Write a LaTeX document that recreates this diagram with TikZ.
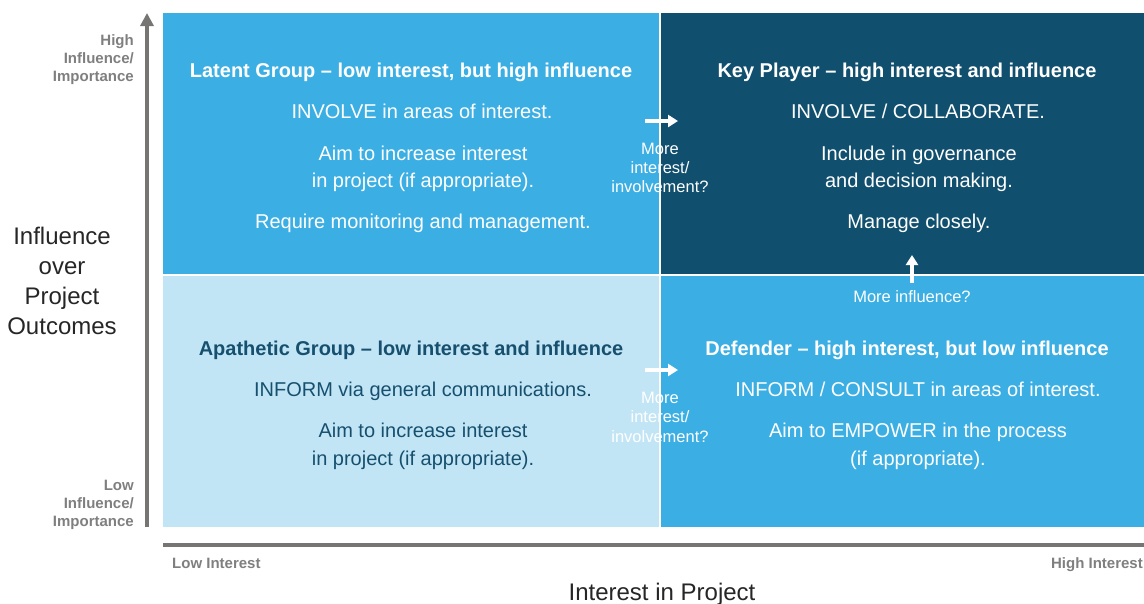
\documentclass[tikz,border=0pt]{standalone}
\usepackage{fontspec}
\setmainfont{Liberation Sans}
\usetikzlibrary{arrows.meta}
\definecolor{qblue}{HTML}{3BAFE4}
\definecolor{qdark}{HTML}{104F6E}
\definecolor{qlight}{HTML}{C2E5F6}
\definecolor{qtext}{HTML}{16506E}
\definecolor{axgray}{HTML}{777474}
\definecolor{labgray}{HTML}{7F7F7F}
\tikzset{
  quad/.style={draw=none},
  ttl/.style={anchor=base, font=\fontsize{20}{24}\selectfont\bfseries, inner sep=0pt},
  body/.style={anchor=base, font=\fontsize{20}{24}\selectfont, inner sep=0pt},
  small/.style={anchor=base, font=\fontsize{16.5}{19}\selectfont, inner sep=0pt, text=white},
  glab/.style={anchor=base east, font=\fontsize{15}{18}\selectfont\bfseries, inner sep=0pt, text=labgray},
  axt/.style={anchor=base, font=\fontsize{24}{30}\selectfont, inner sep=0pt, text=black!85},
  warrow/.style={draw=white, line width=3.5pt, -{Triangle[width=12pt,length=10pt]}},
}
\begin{document}
\begin{tikzpicture}[x=1pt,y=-1pt]
\useasboundingbox (0,0) rectangle (1144,603);
% quadrants
\fill[qblue] (163,13) rectangle (658.5,273.5);
\fill[qdark] (660.5,13) rectangle (1144,273.5);
\fill[qlight] (163,275.5) rectangle (658.5,527);
\fill[qblue] (660.5,275.5) rectangle (1144,527);
% axes
\coordinate (ybot) at (147,527);
\coordinate (ytop) at (147,13);
\draw[axgray, line width=4.5pt, -{Triangle[width=13pt,length=13pt]}] (ybot) -- (ytop);
\coordinate (xl) at (163,545);
\coordinate (xr) at (1144,545);
\draw[axgray, line width=3.5pt] (xl) -- (xr);
% axis labels
\node[glab] (hi1) at (134,45) {High};
\node[glab] (hi2) at (134,63) {Influence/};
\node[glab] (hi3) at (134,81) {Importance};
\node[glab] (lo1) at (134,490) {Low};
\node[glab] (lo2) at (134,508) {Influence/};
\node[glab] (lo3) at (134,526) {Importance};
\node[glab, anchor=base west] (lint) at (172,568) {Low Interest};
\node[glab] (hint) at (1143,568) {High Interest};
\node[axt] (y1) at (62,244) {Influence};
\node[axt] (y2) at (62,274) {over};
\node[axt] (y3) at (62,304) {Project};
\node[axt] (y4) at (62,334) {Outcomes};
\node[axt] (xt) at (662,600) {Interest in Project};
% TL
\node[ttl, text=white] (tl0) at (411,77) {Latent Group -- low interest, but high influence};
\node[body, text=white] (tl1) at (422,118) {INVOLVE in areas of interest.};
\node[body, text=white] (tl2) at (423,160) {Aim to increase interest};
\node[body, text=white] (tl3) at (423,187) {in project (if appropriate).};
\node[body, text=white] (tl4) at (423,228) {Require monitoring and management.};
% TR
\node[ttl, text=white] (tr0) at (907,77) {Key Player -- high interest and influence};
\node[body, text=white] (tr1) at (918,118) {INVOLVE / COLLABORATE.};
\node[body, text=white] (tr2) at (919,160) {Include in governance};
\node[body, text=white] (tr3) at (919,187) {and decision making.};
\node[body, text=white] (tr4) at (919,228) {Manage closely.};
% BL
\node[ttl, text=qtext] (bl0) at (411,355) {Apathetic Group -- low interest and influence};
\node[body, text=qtext] (bl1) at (423,396) {INFORM via general communications.};
\node[body, text=qtext] (bl2) at (423,437) {Aim to increase interest};
\node[body, text=qtext] (bl3) at (423,465) {in project (if appropriate).};
% BR
\node[ttl, text=white] (br0) at (907,355) {Defender -- high interest, but low influence};
\node[body, text=white] (br1) at (918,396) {INFORM / CONSULT in areas of interest.};
\node[body, text=white] (br2) at (918,437) {Aim to EMPOWER in the process};
\node[body, text=white] (br3) at (918,465) {(if appropriate).};
% transition arrows
\coordinate (a1s) at (645,121);
\coordinate (a1e) at (678,121);
\draw[warrow] (a1s) -- (a1e);
\node[small] (m1a) at (660,154) {More};
\node[small] (m1b) at (660,173) {interest/};
\node[small] (m1c) at (660,192) {involvement?};
\coordinate (a2s) at (645,370);
\coordinate (a2e) at (678,370);
\draw[warrow] (a2s) -- (a2e);
\node[small] (m2a) at (660,403) {More};
\node[small] (m2b) at (660,422) {interest/};
\node[small] (m2c) at (660,442) {involvement?};
\coordinate (a3s) at (912,283);
\coordinate (a3e) at (912,255);
\draw[warrow] (a3s) -- (a3e);
\node[small] (m3) at (912,302) {More influence?};
\end{tikzpicture}
\end{document}
